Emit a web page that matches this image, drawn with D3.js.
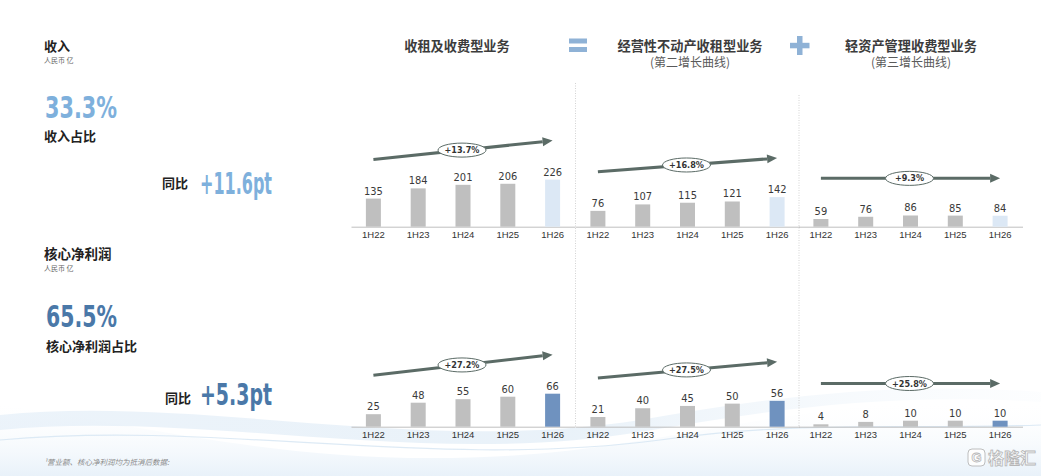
<!DOCTYPE html>
<html>
<head>
<meta charset="utf-8">
<script src="https://cdn.jsdelivr.net/npm/d3@7/dist/d3.min.js"></script>
<style>
  html, body { margin: 0; padding: 0; background: #ffffff; }
  svg { display: block; }
  .cjk { font-family: "Noto Sans CJK SC", "Noto Sans", sans-serif; }
  .num { font-family: "Liberation Sans Narrow", "DejaVu Sans Condensed", "Liberation Sans", sans-serif; font-stretch: condensed; }
</style>
</head>
<body>
<svg id="chart" width="1041" height="476"></svg>
<script>
// ---------------- data ----------------
const categories = ['1H22', '1H23', '1H24', '1H25', '1H26'];
const revenueTotal = [135, 184, 201, 206, 226];
const revenueOperating = [76, 107, 115, 121, 142];
const revenueLight = [59, 76, 86, 85, 84];
const profitTotal = [25, 48, 55, 60, 66];
const profitOperating = [21, 40, 45, 50, 56];
const profitLight = [4, 8, 10, 10, 10];
const revenueGrowth = ['+13.7%', '+16.8%', '+9.3%'];
const profitGrowth = ['+27.2%', '+27.5%', '+25.8%'];
const revenueScaleMax = [288, 288, 460];
const profitScaleMax = [120, 130, 100];
const flatTrend = [false, false, true];
const panelTitles = ['收租及收费型业务', '经营性不动产收租型业务', '轻资产管理收费型业务'];
const panelSubtitles = ['', '(第二增长曲线)', '(第三增长曲线)'];

// ---------------- layout ----------------
const svg = d3.select('#chart');
const W = 1041, H = 476;
const panelX = [351, 575.5, 798.5];
const panelW = 224;
const barH = 60;
const rows = [
  { base: 226.7, series: [revenueTotal, revenueOperating, revenueLight], max: revenueScaleMax, growth: revenueGrowth, hi: '#dce8f5' },
  { base: 426.7, series: [profitTotal, profitOperating, profitLight], max: profitScaleMax, growth: profitGrowth, hi: '#6f92bf' }
];
const gray = '#bfbfbf';
const arrowColor = '#5b6b66';
const textDark = '#3a3a3a';

// ---------------- background swoosh ----------------
const defs = svg.append('defs');
const g1 = defs.append('linearGradient').attr('id', 'wave1').attr('x1', '0').attr('y1', '0').attr('x2', '1').attr('y2', '0');
g1.append('stop').attr('offset', '0%').attr('stop-color', '#e3eef8').attr('stop-opacity', 0.9);
g1.append('stop').attr('offset', '55%').attr('stop-color', '#dbe9f5').attr('stop-opacity', 0.8);
g1.append('stop').attr('offset', '100%').attr('stop-color', '#eef5fb').attr('stop-opacity', 0.2);
const g2 = defs.append('linearGradient').attr('id', 'wave2').attr('x1', '0').attr('y1', '0').attr('x2', '0').attr('y2', '1');
g2.append('stop').attr('offset', '0%').attr('stop-color', '#ffffff').attr('stop-opacity', 0);
g2.append('stop').attr('offset', '100%').attr('stop-color', '#e6f0f9').attr('stop-opacity', 0.9);

svg.append('path')
  .attr('d', 'M0,405 C150,425 300,470 520,455 C700,442 800,395 1041,400 L1041,476 L0,476 Z')
  .attr('fill', 'url(#wave2)');
svg.append('path')
  .attr('d', 'M0,415 C200,395 420,455 640,420 C760,400 880,380 1041,392 L1041,402 C880,392 760,412 640,432 C420,468 200,410 0,430 Z')
  .attr('fill', 'url(#wave1)').attr('opacity', 0.75);
svg.append('path')
  .attr('d', 'M0,440 C220,420 430,470 660,440 C800,420 900,430 1041,425')
  .attr('fill', 'none').attr('stroke', '#d5e5f3').attr('stroke-width', 1.2).attr('opacity', 0.8);

// ---------------- left texts ----------------
function cjk(x, y, t, size, weight, fill, anchor) {
  return svg.append('text').attr('class', 'cjk').attr('x', x).attr('y', y)
    .attr('font-size', size).attr('font-weight', weight || 'normal')
    .attr('fill', fill || textDark).attr('text-anchor', anchor || 'start').text(t);
}
function bigNum(x, y, t, fill, len, size) {
  return svg.append('text').attr('class', 'num').attr('x', x).attr('y', y)
    .attr('font-size', size).attr('font-weight', 'bold').attr('fill', fill)
    .attr('textLength', len).attr('lengthAdjust', 'spacingAndGlyphs').text(t);
}
cjk(44, 50.5, '收入', 13, 'bold', '#222');
cjk(44, 62.5, '人民币 亿', 7, 'normal', '#666');
bigNum(45, 117.5, '33.3%', '#7eb0dc', 72, 30);
cjk(44, 141, '收入占比', 13, 'bold', '#222');
cjk(162, 188, '同比', 13, 'bold', '#222');
bigNum(200, 194, '+11.6pt', '#7eb0dc', 72, 30);

cjk(44, 259, '核心净利润', 13.5, 'bold', '#222');
cjk(44, 270.5, '人民币 亿', 7, 'normal', '#666');
bigNum(46, 326.5, '65.5%', '#4a78a8', 71, 30);
cjk(46, 350.5, '核心净利润占比', 13, 'bold', '#222');
cjk(165, 403, '同比', 13, 'bold', '#222');
bigNum(200, 405, '+5.3pt', '#4a78a8', 72, 31);

svg.append('text').attr('class', 'cjk').attr('x', 44).attr('y', 465)
  .attr('font-size', 7.5).attr('font-style', 'italic').attr('fill', '#8a8a8a')
  .text('¹营业额、核心净利润均为抵消后数据:');

// ---------------- headers ----------------
const headerX = [457, 690, 911];
panelTitles.forEach((t, i) => {
  cjk(headerX[i], 50.5, t, 13.2, 'bold', '#3c3c3c', 'middle');
  if (panelSubtitles[i]) cjk(headerX[i], 67, panelSubtitles[i], 12, 'normal', '#5a5a5a', 'middle');
});
const opColor = '#8fb2d6';
// equals sign
svg.append('rect').attr('x', 569).attr('y', 38.5).attr('width', 18).attr('height', 5).attr('fill', opColor);
svg.append('rect').attr('x', 569).attr('y', 47).attr('width', 18).attr('height', 5).attr('fill', opColor);
// plus sign
svg.append('rect').attr('x', 797).attr('y', 36).attr('width', 5.5).attr('height', 19).attr('fill', opColor);
svg.append('rect').attr('x', 790).attr('y', 42.8).attr('width', 19.5).attr('height', 5.5).attr('fill', opColor);

// ---------------- dividers ----------------
[[panelX[1], 83], [panelX[2] + 0.5, 95]].forEach(([x, y0]) => {
  svg.append('line').attr('x1', x).attr('x2', x).attr('y1', y0).attr('y2', rows[1].base)
    .attr('stroke', '#c8c8c8').attr('stroke-width', 0.8).attr('stroke-dasharray', '1,1.5');
});

// ---------------- panels ----------------
rows.forEach((row, ri) => {
  row.series.forEach((values, pi) => {
    const g = svg.append('g');
    const x = d3.scaleBand().domain(categories)
      .range([panelX[pi], panelX[pi] + panelW])
      .paddingInner(0.665).paddingOuter(0.3325);
    const y = d3.scaleLinear().domain([0, row.max[pi]]).range([row.base, row.base - barH]);

    // axis
    const ax = g.append('g').attr('transform', `translate(0,${row.base})`)
      .call(d3.axisBottom(x).tickSize(0).tickPadding(5));
    ax.select('.domain').attr('stroke', gray).attr('stroke-width', 1);
    ax.selectAll('text').attr('font-size', 9.5).attr('fill', '#333')
      .attr('font-family', '"Liberation Sans", sans-serif').attr('font-weight', 'normal');

    // bars
    g.selectAll('rect.bar').data(values).enter().append('rect')
      .attr('class', 'bar')
      .attr('x', (d, i) => x(categories[i]))
      .attr('width', x.bandwidth())
      .attr('y', d => y(d))
      .attr('height', d => row.base - y(d))
      .attr('fill', (d, i) => i === values.length - 1 ? row.hi : gray);

    // value labels
    g.selectAll('text.val').data(values).enter().append('text')
      .attr('class', 'val num')
      .attr('x', (d, i) => x(categories[i]) + x.bandwidth() / 2)
      .attr('y', d => y(d) - 4)
      .attr('text-anchor', 'middle')
      .attr('font-size', 11)
      .attr('fill', textDark)
      .text(d => d);

    // trend arrow
    const n = values.length;
    const cx = i => x(categories[i]) + x.bandwidth() / 2;
    const lift = 39;
    let y1 = y(values[0]) - lift, y2 = y(values[n - 1]) - lift;
    if (flatTrend[pi]) { const m = (y1 + y2) / 2; y1 = m; y2 = m; }
    const x1 = cx(0), x2 = cx(n - 1);
    const ang = Math.atan2(y2 - y1, x2 - x1);
    const headL = 10, headW = 4.5;
    const bx = x2 - headL * Math.cos(ang), by = y2 - headL * Math.sin(ang);
    g.append('line').attr('x1', x1).attr('y1', y1).attr('x2', bx).attr('y2', by)
      .attr('stroke', arrowColor).attr('stroke-width', 3);
    const px = -Math.sin(ang), py = Math.cos(ang);
    g.append('path')
      .attr('d', `M${x2},${y2} L${bx + px * headW},${by + py * headW} L${bx - px * headW},${by - py * headW} Z`)
      .attr('fill', arrowColor);

    // growth ellipse
    const mid = Math.floor(n / 2);
    const ex = cx(mid);
    const t = (ex - x1) / (x2 - x1);
    const ey = y1 + t * (y2 - y1);
    g.append('ellipse').attr('cx', ex - 1).attr('cy', ey).attr('rx', 24).attr('ry', 7)
      .attr('fill', '#ffffff').attr('stroke', arrowColor).attr('stroke-width', 1);
    g.append('text').attr('class', 'num').attr('x', ex - 1).attr('y', ey + 3)
      .attr('text-anchor', 'middle').attr('font-size', 9).attr('font-weight', 'bold')
      .attr('fill', '#333').text(row.growth[pi]);
  });
});

// ---------------- watermark ----------------
const wm = svg.append('g').attr('opacity', 0.9);
wm.append('rect').attr('x', 968).attr('y', 449).attr('width', 17).attr('height', 17).attr('rx', 4)
  .attr('fill', '#ffffff').attr('stroke', '#b8b8b8').attr('stroke-width', 1);
wm.append('text').attr('x', 976.5).attr('y', 462).attr('text-anchor', 'middle')
  .attr('font-family', '"Liberation Sans", sans-serif').attr('font-weight', 'bold').attr('font-size', 13)
  .attr('fill', '#ffffff').attr('stroke', '#b0b0b0').attr('stroke-width', 0.8).text('G');
wm.append('text').attr('class', 'cjk').attr('x', 988).attr('y', 464).attr('font-size', 16).attr('font-weight', 'bold')
  .attr('fill', '#ffffff').attr('stroke', '#b0b0b0').attr('stroke-width', 0.8).text('格隆汇');
</script>
</body>
</html>
